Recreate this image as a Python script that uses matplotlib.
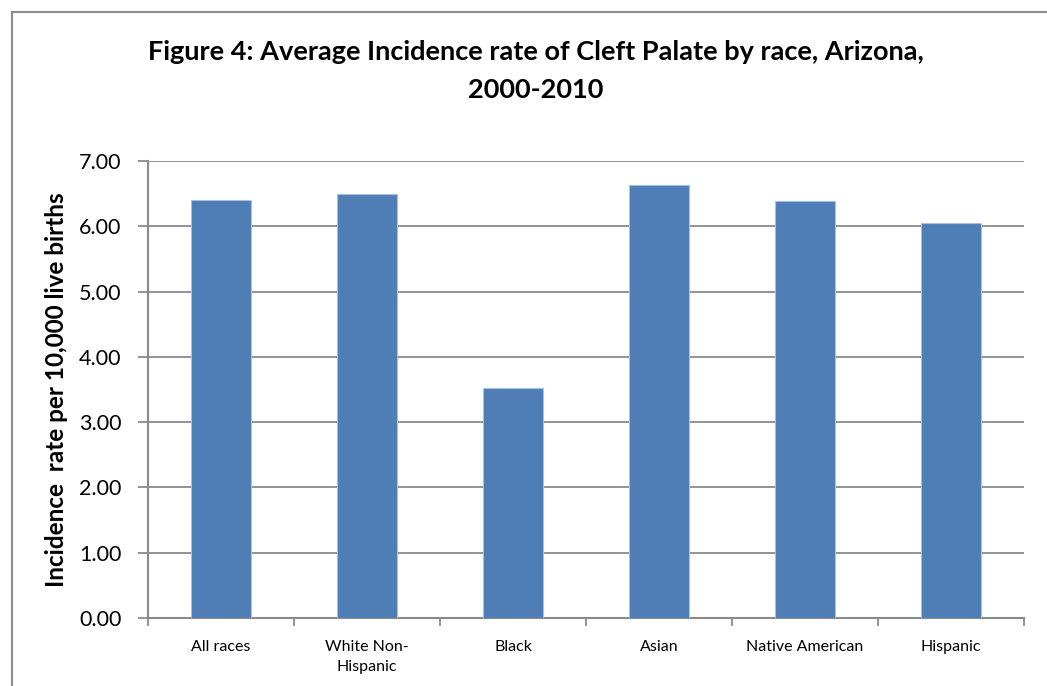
import matplotlib
matplotlib.use("Agg")
import matplotlib.pyplot as plt
from matplotlib.lines import Line2D

# chart data
races = ["All races", "White Non-\nHispanic", "Black", "Asian", "Native American", "Hispanic"]
rates = [6.41, 6.50, 3.53, 6.63, 6.38, 6.05]
yticks = [0, 1, 2, 3, 4, 5, 6, 7]

plt.rcParams["font.family"] = ["Lato", "DejaVu Sans"]

W, H = 1047, 686
fig = plt.figure(figsize=(W / 100, H / 100), dpi=100)
ax = fig.add_axes([148 / W, 1 - 618 / H, (1024 - 148) / W, (618 - 161) / H])

x = list(range(len(races)))
ax.bar(x, rates, width=0.41, color="#4f7db5", edgecolor="#a9c1e0", linewidth=0.8, zorder=3)

ax.set_xlim(-0.5, len(races) - 0.5)
ax.set_ylim(0, 7)
ax.set_yticks(yticks)
ax.set_yticklabels(["%.2f" % v for v in yticks], fontsize=15.5)
ax.yaxis.grid(True, color="#8a8a8a", linewidth=1.3, zorder=0)

# boundary ticks below the axis, labels centred under bars
ax.set_xticks([i - 0.5 for i in range(len(races) + 1)])
ax.set_xticklabels([])
ax.set_xticks(x, minor=True)
ax.set_xticklabels(races, minor=True, fontsize=11.5, linespacing=1.5)
ax.tick_params(axis="x", which="major", length=6, width=1.3, color="#8a8a8a")
ax.tick_params(axis="x", which="minor", length=0, pad=16)
ax.tick_params(axis="y", length=7, width=1.3, color="#8a8a8a", pad=12)

for s in ["top", "right"]:
    ax.spines[s].set_visible(False)
for s in ["left", "bottom"]:
    ax.spines[s].set_color("#8a8a8a")
    ax.spines[s].set_linewidth(1.5)

ax.set_ylabel("Incidence  rate per 10,000 live births", fontsize=17.5, fontweight="bold", labelpad=8)

fig.text(536 / W, 1 - 52 / H, "Figure 4: Average Incidence rate of Cleft Palate by race, Arizona,",
         ha="center", va="center", fontsize=19.5, fontweight="bold")
fig.text(536 / W, 1 - 90 / H, "2000-2010", ha="center", va="center", fontsize=19.5, fontweight="bold")

# chart area border (only top and left visible in the crop)
fig.add_artist(Line2D([12 / W, 12 / W], [0, 1 - 12 / H], color="#8c8c8c", linewidth=1.5))
fig.add_artist(Line2D([12 / W, 1], [1 - 12 / H, 1 - 12 / H], color="#8c8c8c", linewidth=1.5))

fig.savefig("out.png", dpi=100)
